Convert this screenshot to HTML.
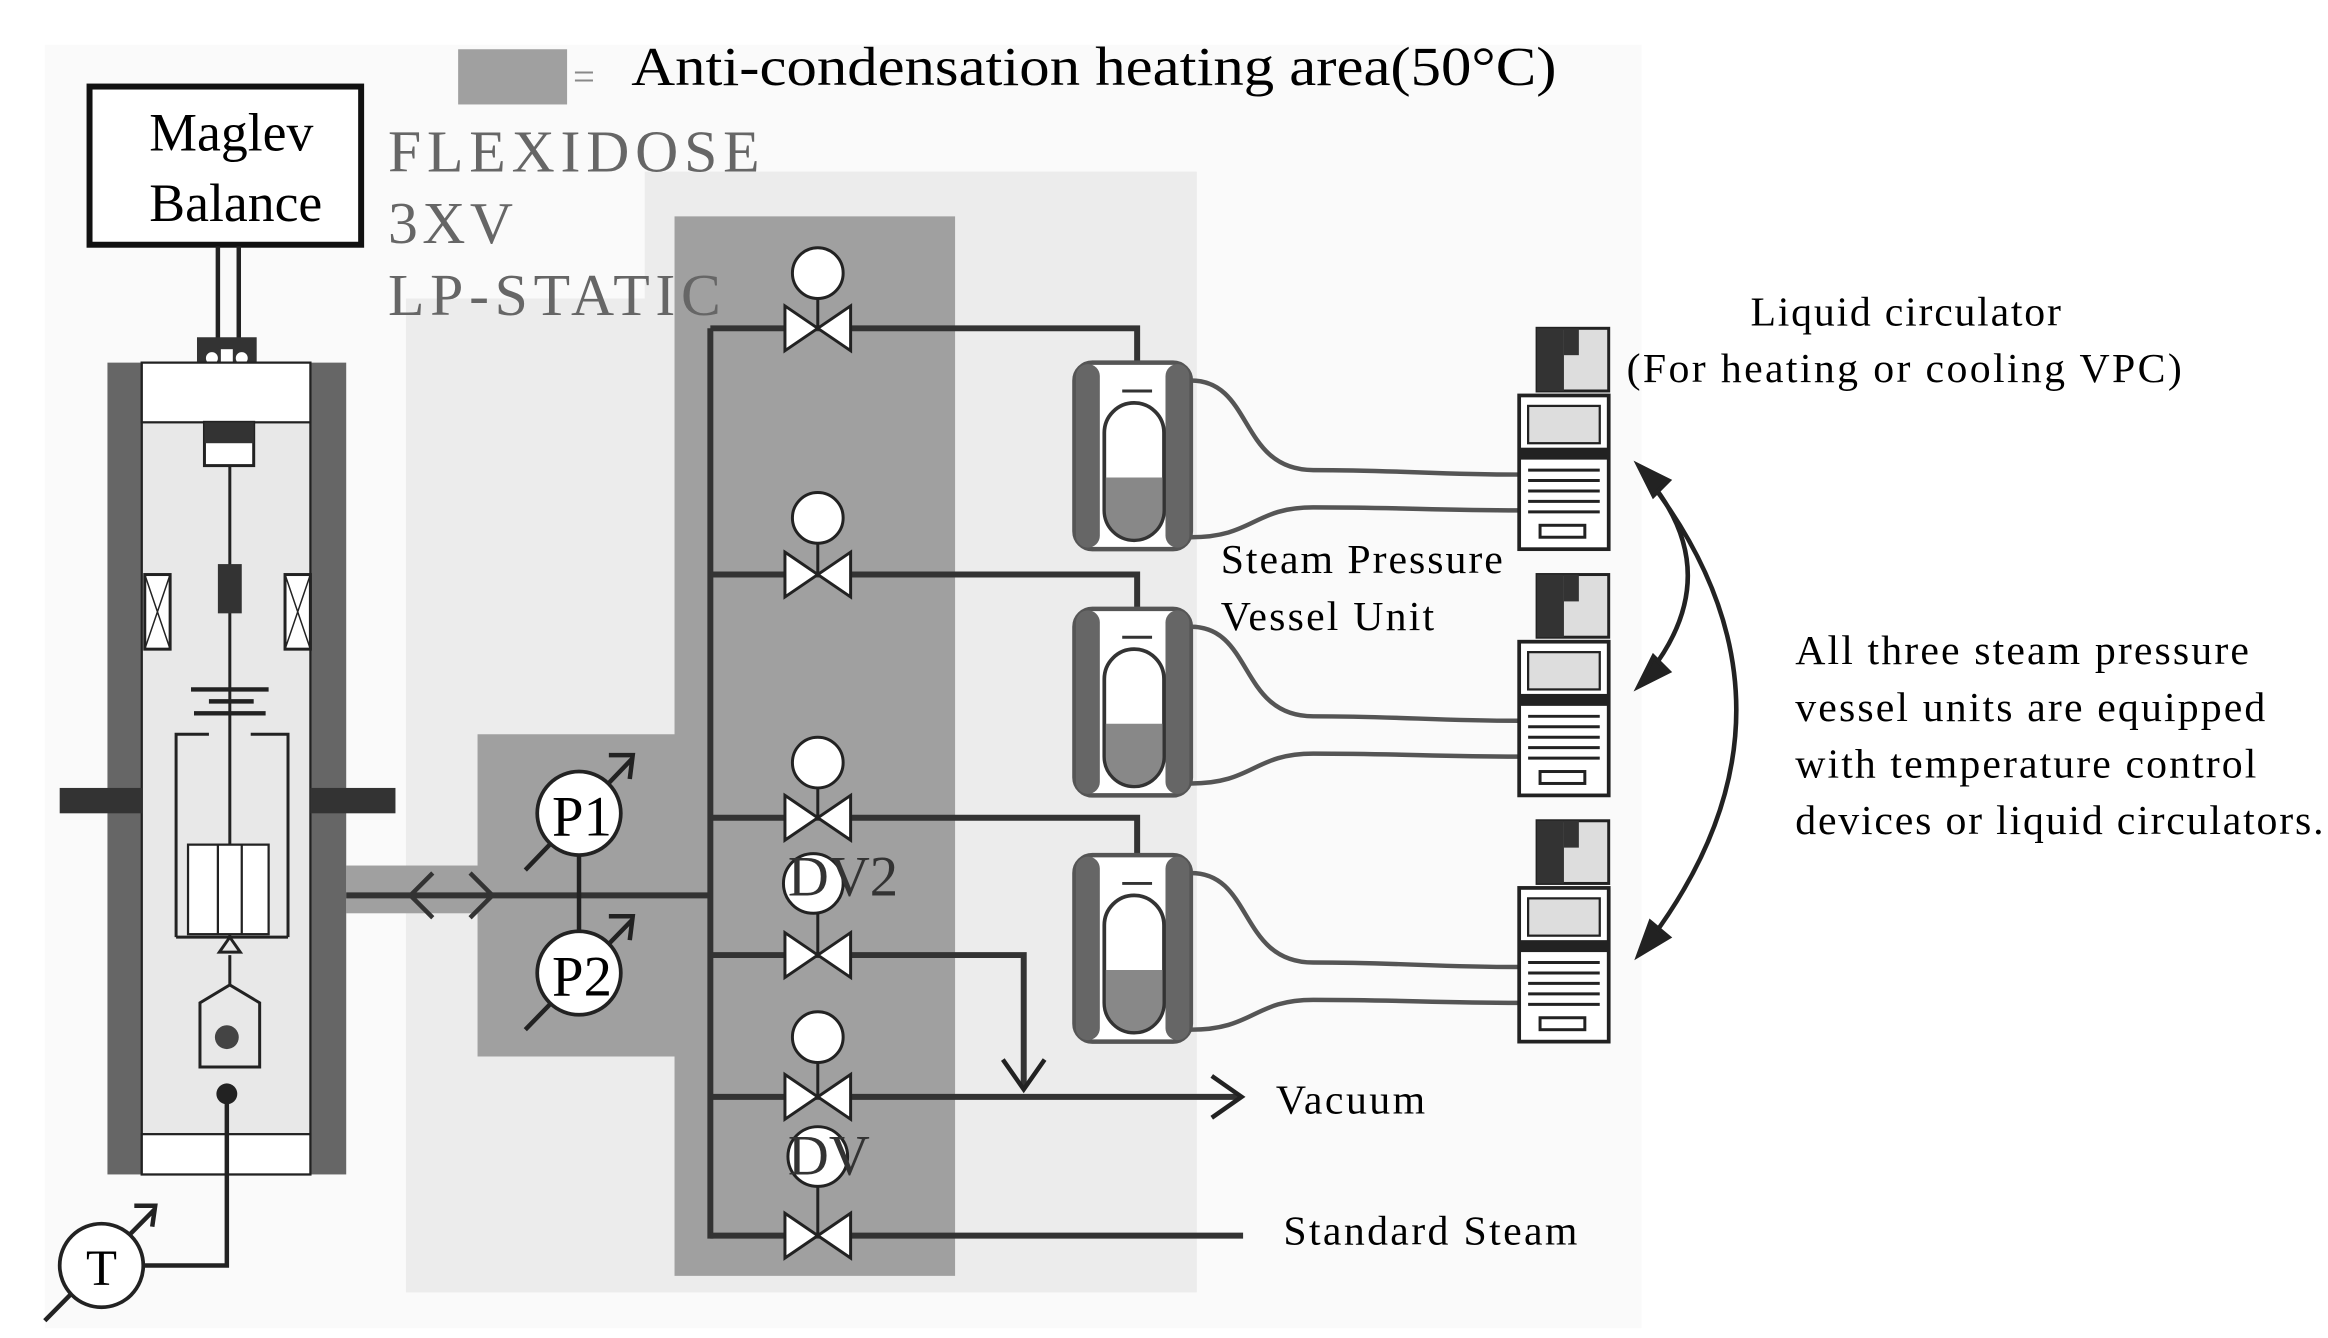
<!DOCTYPE html>
<html><head><meta charset="utf-8"><style>
html,body{margin:0;padding:0;background:#fff;}
svg{display:block}
text{font-family:"Liberation Serif",serif;}
</style></head><body>
<svg width="2328" height="1338" viewBox="0 0 1560 896.6" xmlns="http://www.w3.org/2000/svg">
<rect x="0" y="0" width="1560" height="897" fill="#fff"/>
<rect x="30" y="30" width="1070" height="860" fill="#fafafa"/>
<!-- legend -->
<rect x="307" y="33" width="73" height="37" fill="#a0a0a0"/>
<text x="384" y="60" font-size="26" fill="#888">=</text>
<text x="423" y="57" font-size="37" textLength="620" lengthAdjust="spacingAndGlyphs">Anti-condensation heating area(50°C)</text>
<!-- zones -->
<polygon points="272,200 432,200 432,115 802,115 802,866 272,866" fill="#ececec"/>
<polygon points="452,145 640,145 640,855 452,855 452,708 320,708 320,492 452,492" fill="#a0a0a0"/>
<rect x="232" y="580" width="90" height="32" fill="#a0a0a0"/>
<!-- labels FLEXIDOSE -->
<g fill="#666" font-size="40" letter-spacing="3">
<text x="260" y="115" textLength="252">FLEXIDOSE</text>
<text x="260" y="163">3XV</text>
<text x="260" y="211" textLength="226">LP-STATIC</text>
</g>
<!-- Maglev -->
<rect x="60" y="58" width="182" height="106" fill="#fff" stroke="#111" stroke-width="4"/>
<text x="155" y="101" font-size="36" text-anchor="middle">Maglev</text>
<text x="158" y="148" font-size="36" text-anchor="middle">Balance</text>
<line x1="146" y1="165" x2="146" y2="228" stroke="#222" stroke-width="3"/>
<line x1="160" y1="165" x2="160" y2="228" stroke="#222" stroke-width="3"/>
<rect x="132" y="226" width="40" height="22" fill="#333"/>
<circle cx="142" cy="240" r="4" fill="#fff"/><circle cx="162" cy="240" r="4" fill="#fff"/>
<rect x="148" y="234" width="8" height="14" fill="#fff"/>
<!-- chamber -->
<rect x="72" y="243" width="23" height="544" fill="#666"/>
<rect x="208" y="243" width="24" height="544" fill="#666"/>
<rect x="95" y="243" width="113" height="544" fill="#e8e8e8" stroke="#222" stroke-width="1.5"/>
<rect x="95" y="243" width="113" height="40" fill="#fff" stroke="#222" stroke-width="1.5"/>
<rect x="95" y="760" width="113" height="27" fill="#fff" stroke="#222" stroke-width="1.5"/>
<rect x="40" y="528" width="55" height="17" fill="#333"/>
<rect x="208" y="528" width="57" height="17" fill="#333"/>
<rect x="137" y="283" width="33" height="29" fill="#fff" stroke="#222" stroke-width="2"/>
<rect x="137" y="283" width="33" height="14" fill="#333"/>
<line x1="154" y1="312" x2="154" y2="628" stroke="#222" stroke-width="2"/>
<rect x="146" y="378" width="16" height="33" fill="#333"/>
<g fill="#fff" stroke="#222" stroke-width="2">
<rect x="97" y="385" width="17" height="50"/><rect x="191" y="385" width="17" height="50"/>
</g>
<path d="M97,385 L114,435 M114,385 L97,435 M191,385 L208,435 M208,385 L191,435" stroke="#222" stroke-width="1"/>
<path d="M128,462 H180 M130,478 H178 M140,470 H170" stroke="#222" stroke-width="3"/>
<path d="M118,628 V492 H140 M193,628 V492 H168 M118,628 H193" fill="none" stroke="#222" stroke-width="2"/>
<rect x="126" y="566" width="54" height="60" fill="#fff" stroke="#222" stroke-width="1.5"/>
<path d="M146,566 V626 M162,566 V626" stroke="#222" stroke-width="1.5"/>
<path d="M147,638 L154,628 L161,638 Z M154,640 V660 L134,672 V715 H174 V672 L154,660" fill="none" stroke="#222" stroke-width="2"/>
<circle cx="152" cy="695" r="8" fill="#444"/>
<circle cx="152" cy="733" r="7" fill="#222"/>
<path d="M152,733 V848 H96" fill="none" stroke="#222" stroke-width="3"/>
<path d="M30,885 L104,810 M90,808 L104,808 L102,822" fill="none" stroke="#222" stroke-width="3"/>
<circle cx="68" cy="848" r="28" fill="#fff" stroke="#222" stroke-width="2.5"/>
<text x="68" y="861" font-size="34" text-anchor="middle">T</text>
<!-- main pipe -->
<line x1="232" y1="600" x2="476" y2="600" stroke="#333" stroke-width="4"/>
<path d="M290,585 L275,600 L290,615 M315,585 L330,600 L315,615" fill="none" stroke="#333" stroke-width="3"/>
<line x1="388" y1="573" x2="388" y2="624" stroke="#222" stroke-width="3"/>
<path d="M352,583 L424,508 M408,506 L424,506 L422,522 M352,690 L424,616 M408,614 L424,614 L422,630" fill="none" stroke="#222" stroke-width="3"/>
<circle cx="388" cy="545" r="28" fill="#fff" stroke="#222" stroke-width="2.5"/>
<text x="390" y="560" font-size="38" text-anchor="middle">P1</text>
<circle cx="388" cy="652" r="28" fill="#fff" stroke="#222" stroke-width="2.5"/>
<text x="390" y="667" font-size="38" text-anchor="middle">P2</text>
<!-- manifold -->
<line x1="476" y1="220" x2="476" y2="830" stroke="#333" stroke-width="4"/>
<g stroke="#333" stroke-width="4" fill="none">
<path d="M476,220 H762 V262"/>
<path d="M476,385 H762 V428"/>
<path d="M476,548 H762 V592"/>
<path d="M476,640 H686 V728"/>
<path d="M476,735 H830"/>
<path d="M476,828 H833"/>
</g>
<path d="M672,710 L686,730 L700,710 M812,721 L832,735 L812,749" fill="none" stroke="#222" stroke-width="3"/>
<!-- valves -->
<g fill="#fff" stroke="#222" stroke-width="2">
<path d="M526,205 L570,235 V205 L526,235 Z"/>
<path d="M526,370 L570,400 V370 L526,400 Z"/>
<path d="M526,533 L570,563 V533 L526,563 Z"/>
<path d="M526,625 L570,655 V625 L526,655 Z"/>
<path d="M526,720 L570,750 V720 L526,750 Z"/>
<path d="M526,813 L570,843 V813 L526,843 Z"/>
</g>
<g stroke="#222" stroke-width="2">
<line x1="548" y1="200" x2="548" y2="220"/><line x1="548" y1="364" x2="548" y2="385"/>
<line x1="548" y1="528" x2="548" y2="548"/><line x1="548" y1="609" x2="548" y2="640"/>
<line x1="548" y1="712" x2="548" y2="735"/><line x1="548" y1="792" x2="548" y2="828"/>
</g>
<g fill="#fff" stroke="#222" stroke-width="2">
<circle cx="548" cy="183" r="17"/><circle cx="548" cy="347" r="17"/><circle cx="548" cy="511" r="17"/>
<circle cx="545" cy="592" r="20"/><circle cx="548" cy="695" r="17"/><circle cx="548" cy="775" r="20"/>
</g>
<text x="528" y="600" font-size="38" fill="#333">DV2</text>
<text x="528" y="787" font-size="38" fill="#333">DV</text>
<text x="855" y="746" font-size="28" textLength="100">Vacuum</text>
<text x="860" y="834" font-size="28" textLength="197">Standard Steam</text>
<!-- vessels -->
<g id="ves">
<rect x="720" y="243" width="78" height="125" rx="12" fill="#fff" stroke="#555" stroke-width="3"/>
<rect x="721" y="244" width="16" height="123" rx="8" fill="#666"/>
<rect x="781" y="244" width="16" height="123" rx="8" fill="#666"/>
<rect x="740" y="270" width="40" height="92" rx="20" fill="#fff" stroke="#333" stroke-width="2.5"/>
<path d="M741,320 H779 V342 A19,19 0 0 1 741,342 Z" fill="#888"/>
<path d="M752,262 H772" stroke="#333" stroke-width="2"/>
<path d="M798,255 C840,255 830,315 880,315 C940,315 960,318 1018,318 M798,360 C840,360 840,340 880,340 C940,340 960,342 1018,342" fill="none" stroke="#555" stroke-width="3"/>
</g>
<use href="#ves" y="165"/>
<use href="#ves" y="330"/>
<!-- circulators -->
<g id="cir">
<rect x="1030" y="220" width="48" height="42" fill="#ddd" stroke="#222" stroke-width="2"/>
<rect x="1030" y="220" width="18" height="42" fill="#333"/>
<rect x="1048" y="220" width="10" height="18" fill="#333"/>
<rect x="1018" y="265" width="60" height="103" fill="#fff" stroke="#222" stroke-width="2.5"/>
<rect x="1024" y="272" width="48" height="25" fill="#ddd" stroke="#222" stroke-width="1.5"/>
<rect x="1018" y="300" width="60" height="8" fill="#222"/>
<path d="M1024,315 H1072 M1024,322 H1072 M1024,329 H1072 M1024,336 H1072 M1024,343 H1072" stroke="#222" stroke-width="2"/>
<rect x="1032" y="352" width="30" height="8" fill="#fff" stroke="#222" stroke-width="2"/>
</g>
<use href="#cir" y="165"/>
<use href="#cir" y="330"/>
<!-- arrows right -->
<path d="M1102,318 Q1160,385 1102,455" fill="none" stroke="#222" stroke-width="3"/>
<path d="M1102,318 Q1225,475 1102,635" fill="none" stroke="#222" stroke-width="3"/>
<path d="M1098,312 L1118,322 L1108,332 Z M1098,460 L1108,440 L1118,450 Z M1098,640 L1106,618 L1118,628 Z" fill="#222" stroke="#222" stroke-width="3"/>
<text x="1173" y="218" font-size="28" textLength="208">Liquid circulator</text>
<text x="1090" y="256" font-size="28" textLength="372">(For heating or cooling VPC)</text>
<text x="818" y="384" font-size="28" textLength="189">Steam Pressure</text>
<text x="818" y="422" font-size="28" textLength="143">Vessel Unit</text>
<g font-size="28">
<text x="1203" y="445" textLength="304">All three steam pressure</text>
<text x="1203" y="483" textLength="315">vessel units are equipped</text>
<text x="1203" y="521" textLength="309">with temperature control</text>
<text x="1203" y="559" textLength="354">devices or liquid circulators.</text>
</g>
</svg>
</body></html>
